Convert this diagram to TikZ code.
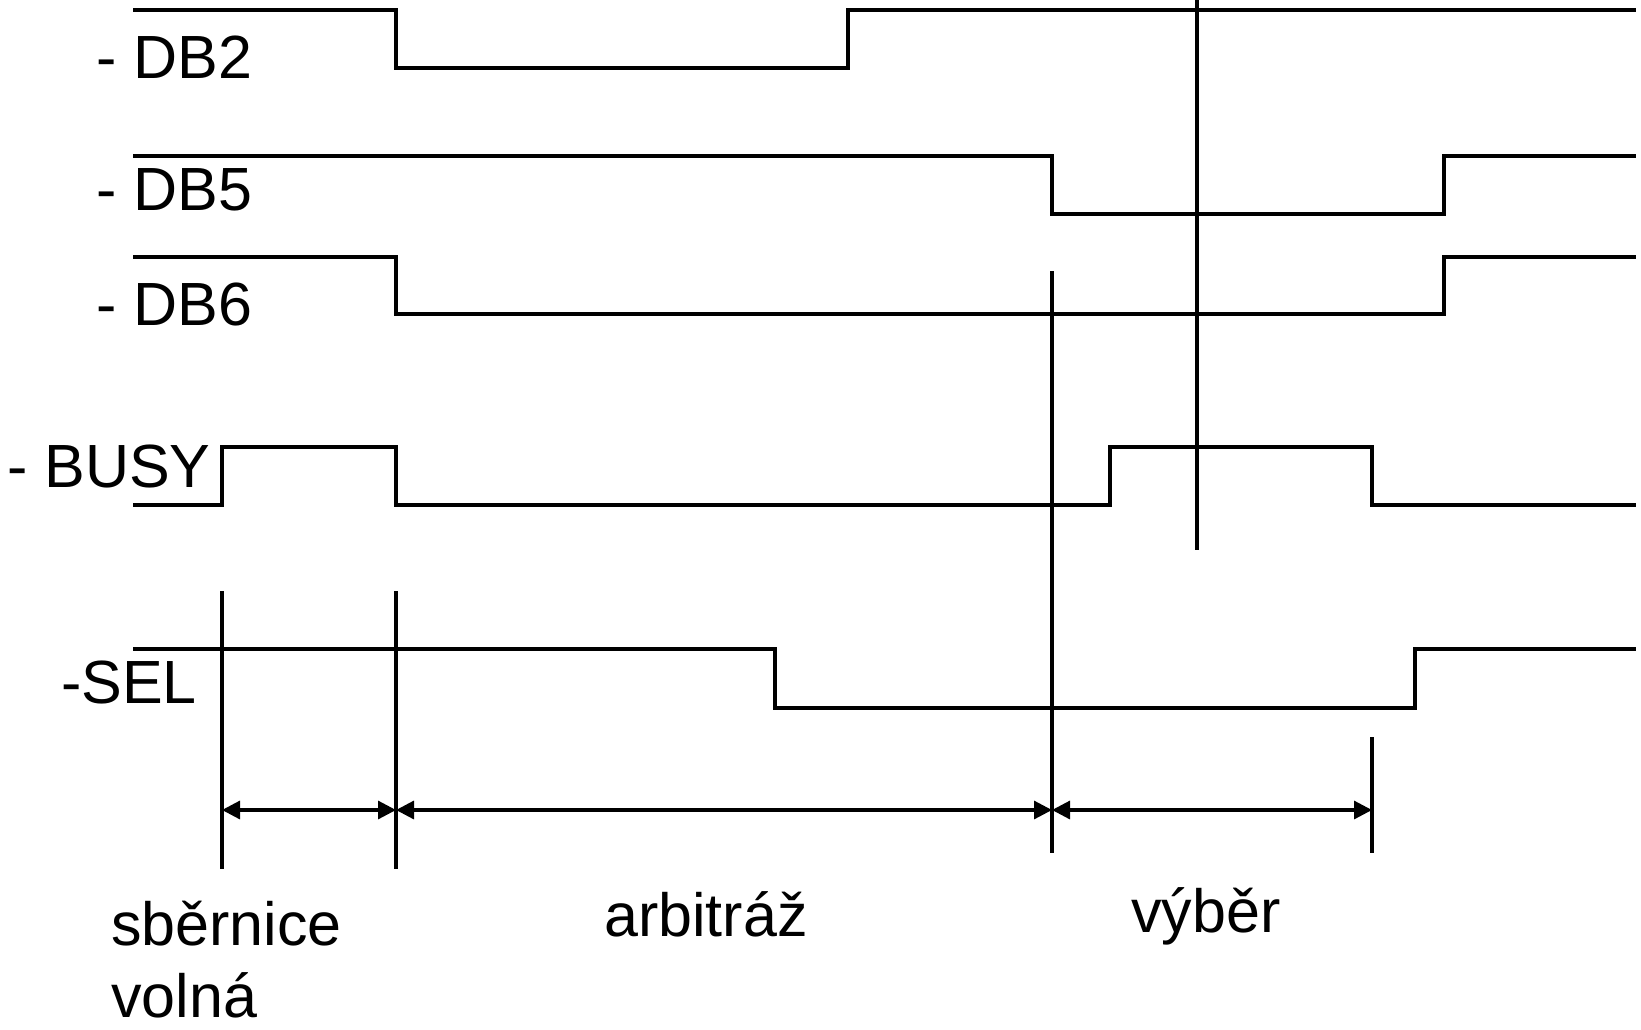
\documentclass[tikz,border=0pt]{standalone}
\usepackage{fontspec}
\setmainfont{Liberation Sans}
\usetikzlibrary{arrows.meta}
\begin{document}
\begin{tikzpicture}[x=1pt,y=-1pt,
  sig/.style={line width=3.4pt, line join=miter},
  marker/.style={line width=3.2pt},
  dimarrow/.style={line width=3.2pt, {Triangle[length=18pt,width=18pt]}-{Triangle[length=18pt,width=18pt]}},
  lbl/.style={anchor=base west, inner sep=0pt, font=\fontsize{61}{68}\selectfont}]
\useasboundingbox (0,0) rectangle (1641,1030);
% signal labels
\node[lbl] (ldb2) at (96,79) {- DB2};
\node[lbl] (ldb5) at (96,210) {- DB5};
\node[lbl] (ldb6) at (96,325) {- DB6};
\node[lbl] (lbusy) at (7,487) {- BUSY};
\node[lbl] (lsel) at (61,703) {-SEL};
% waveforms
\draw[sig] (133,10) -- (396,10) -- (396,68) -- (848,68) -- (848,10) -- (1636,10);
\draw[sig] (133,156) -- (1052,156) -- (1052,214) -- (1444,214) -- (1444,156) -- (1636,156);
\draw[sig] (133,257) -- (396,257) -- (396,314) -- (1444,314) -- (1444,257) -- (1636,257);
\draw[sig] (133,505) -- (222,505) -- (222,447) -- (396,447) -- (396,505) -- (1110,505) -- (1110,447) -- (1372,447) -- (1372,505) -- (1636,505);
\draw[sig] (133,649) -- (775,649) -- (775,708) -- (1415,708) -- (1415,649) -- (1636,649);
% marker lines
\coordinate (m1t) at (222,591); \coordinate (m1b) at (222,869);
\coordinate (m2t) at (396,591); \coordinate (m2b) at (396,869);
\coordinate (m3t) at (1052,271); \coordinate (m3b) at (1052,853);
\coordinate (m4t) at (1197,0); \coordinate (m4b) at (1197,550);
\coordinate (m5t) at (1372,737); \coordinate (m5b) at (1372,853);
\draw[marker] (m1t) -- (m1b);
\draw[marker] (m2t) -- (m2b);
\draw[marker] (m3t) -- (m3b);
\draw[marker] (m4t) -- (m4b);
\draw[marker] (m5t) -- (m5b);
% dimension arrows
\coordinate (a1) at (222,810);
\coordinate (a2) at (396,810);
\coordinate (a3) at (1052,810);
\coordinate (a4) at (1372,810);
\draw[dimarrow] (a1) -- (a2);
\draw[dimarrow] (a2) -- (a3);
\draw[dimarrow] (a3) -- (a4);
% phase labels
\node[lbl] (p1) at (111,945) {sběrnice};
\node[lbl] (p1b) at (111,1017) {volná};
\node[lbl] (p2) at (604,936) {arbitráž};
\node[lbl] (p3) at (1131,932) {výběr};
\end{tikzpicture}
\end{document}
